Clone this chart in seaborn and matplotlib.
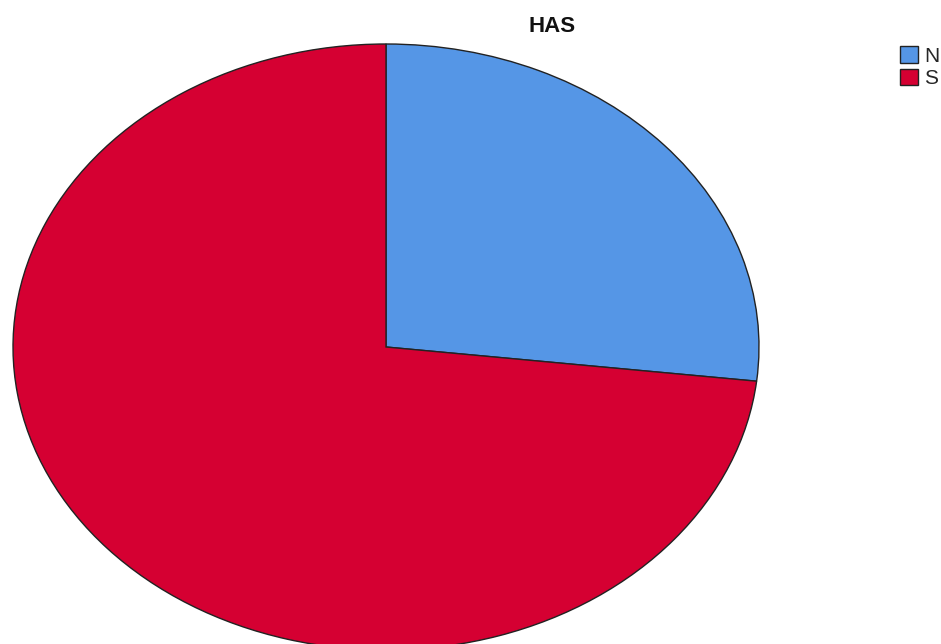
import matplotlib
matplotlib.use("Agg")
import matplotlib.pyplot as plt
import seaborn as sns

# Pie data (percent shares)
labels = ["N", "S"]
values = [26.8, 73.2]
colors = ["#5596e6", "#d50032"]

sns.set_theme(style="white")
plt.rcParams['font.family'] = ['Liberation Sans', 'DejaVu Sans']

fig = plt.figure(figsize=(9.41, 6.44), dpi=100)
# ellipse spans x 13..759 px, y 44..650 px (slightly cut at the bottom)
ax = fig.add_axes([13 / 941, 1 - 650 / 644, 746 / 941, 606 / 644])

wedges, _ = ax.pie(values, colors=colors, startangle=90, counterclock=False,
                   wedgeprops=dict(edgecolor="#222222", linewidth=1.0))
ax.set_aspect("auto")
ax.set_xlim(-1, 1)
ax.set_ylim(-1, 1)
ax.axis("off")

fig.text(552 / 941, 1 - 26 / 644, "HAS", ha="center", va="center",
         fontsize=16, fontweight="bold", color="#111111")

leg = fig.legend(wedges, labels, loc="upper left",
                 bbox_to_anchor=(896 / 941, 1 - 42 / 644),
                 frameon=False, fontsize=15, handlelength=0.85, handleheight=0.85,
                 handletextpad=0.3, labelspacing=0.15, borderpad=0.2,
                 borderaxespad=0.0)
for h in leg.legend_handles:
    h.set_edgecolor("#222222")
    h.set_linewidth(1.0)

fig.savefig("out.png", dpi=100)
